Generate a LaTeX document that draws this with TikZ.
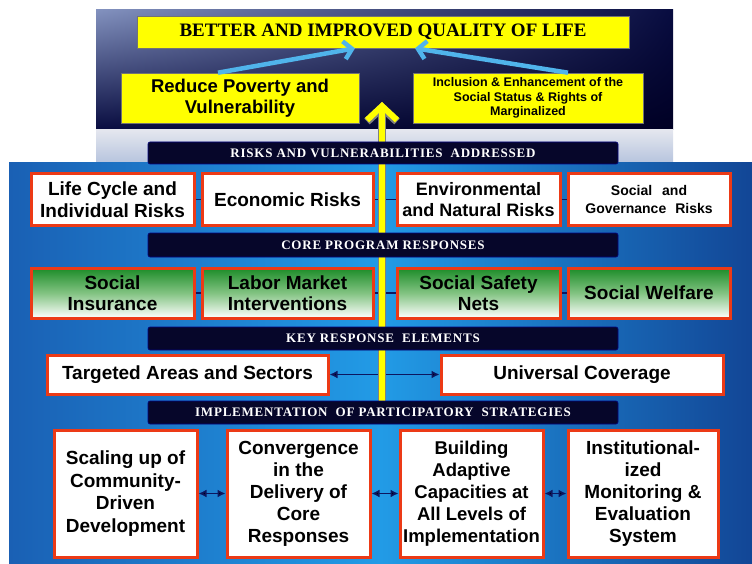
\documentclass[tikz,border=0pt]{standalone}
\usepackage{fontspec}
\usetikzlibrary{arrows.meta,shadings}
\newfontfamily\boxfont{Liberation Sans}
\newfontfamily\barfont[LetterSpace=6]{Liberation Serif}
\newfontfamily\titlefont{Liberation Serif}
\definecolor{paneltl}{RGB}{130,145,190}
\definecolor{navytop}{RGB}{8,12,64}
\definecolor{navydeep}{RGB}{0,0,36}
\definecolor{bandtop}{RGB}{228,230,238}
\definecolor{bandbot}{RGB}{182,196,222}
\definecolor{paneledge}{RGB}{26,96,180}
\definecolor{panelmid}{RGB}{34,155,230}
\definecolor{paneldark}{RGB}{18,70,150}
\definecolor{barnavy}{RGB}{6,6,42}
\definecolor{boxred}{RGB}{236,58,22}
\definecolor{grntop}{RGB}{28,140,40}
\definecolor{grnmid}{RGB}{130,195,130}
\definecolor{qolyellow}{RGB}{255,255,0}
\definecolor{skyblue}{RGB}{80,180,235}
\definecolor{linknavy}{RGB}{12,22,95}
\tikzstyle{bar}=[fill=barnavy, draw=barnavy!60!blue, line width=0.6pt, rounded corners=2pt, minimum width=470pt, text=white, font=\barfont\bfseries\fontsize{13}{14}\selectfont]
\tikzstyle{whitebox}=[draw=boxred, line width=3pt, fill=white, align=center, inner sep=0pt, font=\boxfont\bfseries\fontsize{19}{21.5}\selectfont]
\tikzstyle{greenbox}=[whitebox, top color=grntop, bottom color=white, middle color=grnmid]
\tikzstyle{yellowbox}=[fill=qolyellow, draw=black!55, line width=0.6pt, align=center, inner sep=0pt, font=\boxfont\bfseries\fontsize{18.5}{21}\selectfont]
\tikzstyle{link}=[draw=linknavy, line width=1.6pt]
\tikzstyle{arrow}=[draw=linknavy, line width=1.6pt, >={Latex[length=8pt,width=8pt]}, <->]
\tikzstyle{bluearrow}=[draw=skyblue, line width=4.5pt, -{Straight Barb[length=8pt,width=18pt]}]

\begin{document}
\begin{tikzpicture}[x=1pt, y=-1pt]
	   \useasboundingbox (0,0) rectangle (752,564);
	   % panels
	   \shade[upper left=paneltl, upper right=navytop, lower left=navytop, lower right=navydeep] (96,10) rectangle (673,130);
	   \shade[top color=bandtop, bottom color=bandbot] (96,130) rectangle (673,163);
	   \shade[left color=paneledge, right color=paneldark, middle color=panelmid] (9,163) rectangle (752,564);
	   \begin{scope}
		   % top
		   \node (qol) at (383, 32)[yellowbox, minimum width=492pt, minimum height=32pt, font=\titlefont\bfseries\fontsize{19}{20}\selectfont] {BETTER AND IMPROVED QUALITY OF LIFE};
		   \node (pov) at (240, 98)[yellowbox, minimum width=238pt, minimum height=50pt] {Reduce Poverty and\\Vulnerability};
		   \node (inc) at (528, 98)[yellowbox, minimum width=230pt, minimum height=50pt, font=\boxfont\bfseries\fontsize{12.5}{14.5}\selectfont] {Inclusion \& Enhancement of the\\Social Status \& Rights of\\Marginalized};
		   % risks
		   \node (lc) at (112.5, 199.5)[whitebox, minimum width=163pt, minimum height=51pt] {Life Cycle and\\Individual Risks};
		   \node (ec) at (287.5, 199.5)[whitebox, minimum width=171pt, minimum height=51pt] {Economic Risks};
		   \node (en) at (478.5, 199.5)[whitebox, minimum width=163pt, minimum height=51pt, font=\boxfont\bfseries\fontsize{18}{21.5}\selectfont] {Environmental\\and Natural Risks};
		   \node (sg) at (649, 199.5)[whitebox, minimum width=162pt, minimum height=51pt, font=\boxfont\bfseries\fontsize{14}{18}\selectfont] {Social\hspace{10pt}and\\Governance\hspace{9pt}Risks};
		   % responses
		   \node (si) at (112.5, 293)[greenbox, minimum width=163pt, minimum height=50pt] {Social\\Insurance};
		   \node (lm) at (287.5, 293)[greenbox, minimum width=171pt, minimum height=50pt] {Labor Market\\Interventions};
		   \node (sn) at (478.5, 293)[greenbox, minimum width=163pt, minimum height=50pt] {Social Safety\\Nets};
		   \node (sw) at (649, 293)[greenbox, minimum width=162pt, minimum height=50pt] {Social Welfare};
		   % elements
		   \node (ta) at (187.5, 374.5)[whitebox, minimum width=281pt, minimum height=39pt] {Targeted Areas and Sectors};
		   \node (uc) at (582, 374.5)[whitebox, minimum width=282pt, minimum height=39pt] {Universal Coverage};
		   % strategies
		   \node (sc) at (125.5, 493.5)[whitebox, minimum width=143pt, minimum height=127pt, font=\boxfont\bfseries\fontsize{19}{22.4}\selectfont] {Scaling up of\\Community-\\Driven\\Development};
		   \node (cv) at (298.5, 493.5)[whitebox, minimum width=143pt, minimum height=127pt, font=\boxfont\bfseries\fontsize{19}{22}\selectfont] {Convergence\\in the\\Delivery of\\Core\\Responses};
		   \node (ba) at (471.5, 493.5)[whitebox, minimum width=143pt, minimum height=127pt, font=\boxfont\bfseries\fontsize{18.5}{22}\selectfont] {Building\\Adaptive\\Capacities at\\All Levels of\\Implementation};
		   \node (im) at (643, 493.5)[whitebox, minimum width=150pt, minimum height=127pt, font=\boxfont\bfseries\fontsize{19}{22}\selectfont] {Institutional-\\ized\\Monitoring \&\\Evaluation\\System};
	   \end{scope}
	   \begin{scope}
		   \path [link] (lc) edge (ec);
		   \path [link] (ec) edge (en);
		   \path [link] (en) edge (sg);
		   \path [link] (si) edge (lm);
		   \path [link] (lm) edge (sn);
		   \path [link] (sn) edge (sw);
		   \path [arrow] (ta) edge (uc);
		   \path [arrow] (sc) edge (cv);
		   \path [arrow] (cv) edge (ba);
		   \path [arrow] (ba) edge (im);
	   \end{scope}
	   % yellow arrow up the middle
	   \coordinate (base) at (382, 405);
	   \coordinate (tip) at (382, 102);
	   \draw [draw=black!50, line width=8pt, -{Straight Barb[length=14pt,width=30pt]}] (base) -- (tip);
	   \draw [draw=qolyellow, line width=6pt, -{Straight Barb[length=14pt,width=30pt]}] (base) -- (tip);
	   % blue arrows
	   \coordinate (la) at (218, 0);
	   \coordinate (lt) at (355, 0);
	   \coordinate (ra) at (568, 0);
	   \coordinate (rt) at (415, 0);
	   \draw [bluearrow] (pov.north -| la) -- (qol.south -| lt);
	   \draw [bluearrow] (inc.north -| ra) -- (qol.south -| rt);
	   \begin{scope}
		   \node (h1) at (383, 153)[bar, minimum height=22pt] {RISKS AND VULNERABILITIES\ \ ADDRESSED};
		   \node (h2) at (383, 245)[bar, minimum height=24pt] {CORE PROGRAM RESPONSES};
		   \node (h3) at (383, 338.5)[bar, minimum height=23pt] {KEY RESPONSE\ \ ELEMENTS};
		   \node (h4) at (383, 412.5)[bar, minimum height=23pt] {IMPLEMENTATION\ \ OF PARTICIPATORY\ \ STRATEGIES};
	   \end{scope}
\end{tikzpicture}
\end{document}
